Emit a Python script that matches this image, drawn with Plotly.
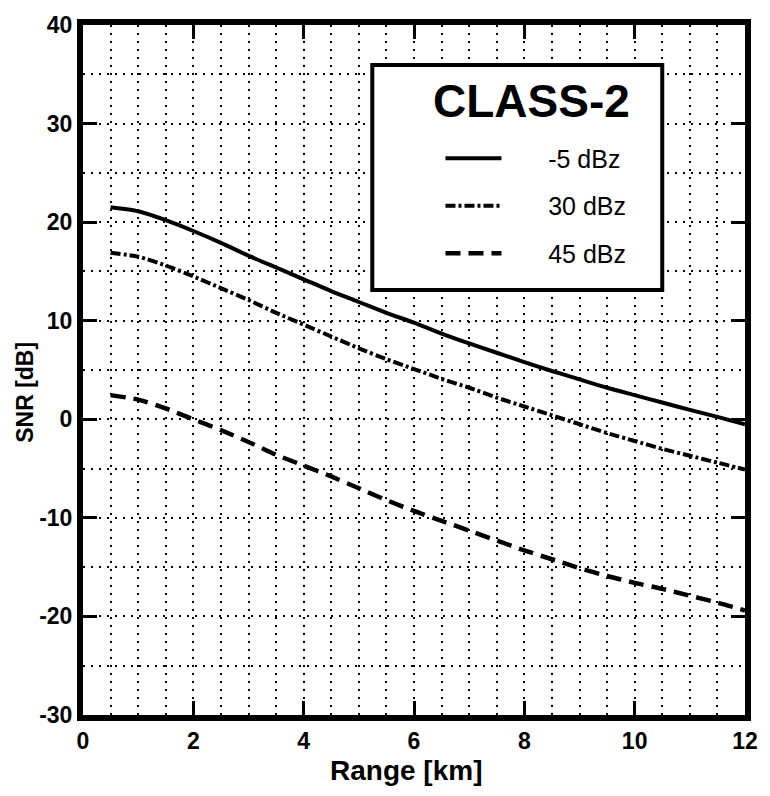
import plotly.graph_objects as go

# Range in km
range_km = [0.5, 1.0, 1.5, 2.0, 2.5, 3.0, 3.5, 4.0, 4.5, 5.0, 5.5, 6.0,
            6.5, 7.0, 7.5, 8.0, 8.5, 9.0, 9.5, 10.0, 10.5, 11.0, 11.5, 12.0]

# SNR [dB] for each reflectivity class
snr_m5 = [21.5, 21.1, 20.2, 19.1, 17.9, 16.6, 15.4, 14.2, 13.0, 11.9, 10.8, 9.8,
          8.7, 7.7, 6.75, 5.8, 4.9, 4.05, 3.2, 2.45, 1.7, 0.95, 0.25, -0.5]
snr_30 = [16.9, 16.5, 15.6, 14.5, 13.3, 12.1, 10.8, 9.6, 8.4, 7.2, 6.1, 5.1,
          4.1, 3.2, 2.2, 1.3, 0.4, -0.5, -1.4, -2.2, -3.0, -3.7, -4.4, -5.1]
snr_45 = [2.45, 2.0, 1.1, 0.0, -1.1, -2.3, -3.6, -4.7, -5.8, -7.0, -8.2, -9.3,
          -10.3, -11.3, -12.3, -13.3, -14.2, -15.1, -15.9, -16.6, -17.2, -17.9, -18.6, -19.4]

series_names = ["-5 dBz", "30 dBz", "45 dBz"]
series_values = [snr_m5, snr_30, snr_45]
series_dash = ["solid", "10px,3px,3px,3px", "15px,8px"]
series_width = [4, 4, 4.5]

x_ticks = [0, 2, 4, 6, 8, 10, 12]
y_ticks = [-30, -20, -10, 0, 10, 20, 30, 40]

FONT = "Liberation Sans, Arial, sans-serif"
PAD = "\u00a0" * 6  # gap between legend sample and its label

fig = go.Figure()
for name, vals, dash, w in zip(series_names, series_values, series_dash, series_width):
    fig.add_trace(go.Scatter(
        x=range_km, y=vals, name=PAD + name, mode="lines",
        line=dict(color="black", width=w, dash=dash, shape="spline", smoothing=0.6),
        legendgroup=name,
    ))

grid_style = dict(showgrid=True, gridcolor="black", gridwidth=2, griddash="2px,6px")

fig.update_xaxes(
    range=[0, 12], tickvals=x_ticks, ticktext=[str(v) for v in x_ticks],
    ticks="inside", ticklen=14, tickwidth=3, tickcolor="black",
    showline=True, linewidth=6, linecolor="black", mirror="ticks",
    zeroline=False,
    minor=dict(dtick=0.5, showgrid=True, gridcolor="black", gridwidth=2, griddash="2px,6px"),
    tickfont=dict(family=FONT, size=23, color="black", weight="bold"),
    **grid_style,
)
fig.update_yaxes(
    range=[-30, 40], tickvals=y_ticks, ticktext=[str(v) for v in y_ticks],
    ticks="inside", ticklen=14, tickwidth=3, tickcolor="black",
    showline=True, linewidth=6, linecolor="black", mirror="ticks",
    zeroline=False,
    minor=dict(dtick=5, showgrid=True, gridcolor="black", gridwidth=2, griddash="2px,6px"),
    tickfont=dict(family=FONT, size=23, color="black", weight="bold"),
    **grid_style,
)

# Legend frame
fig.add_shape(type="rect", xref="paper", yref="paper",
              x0=0.437, x1=0.875, y0=0.616, y1=0.942,
              line=dict(color="black", width=4), fillcolor="white", layer="above")

fig.add_annotation(text="<b>CLASS-2</b>", xref="paper", yref="paper",
                   x=0.677, y=0.89, xanchor="center", yanchor="middle", showarrow=False,
                   font=dict(family=FONT, size=46, color="black"))

fig.add_annotation(text="<b>Range [km]</b>", xref="paper", yref="paper",
                   x=0.488, y=-0.08, xanchor="center", yanchor="middle", showarrow=False,
                   font=dict(family=FONT, size=28, color="black"))
fig.add_annotation(text="<b>SNR [dB]</b>", xref="paper", yref="paper",
                   x=-0.088, y=0.468, xanchor="center", yanchor="middle", showarrow=False,
                   textangle=-90, font=dict(family=FONT, size=23, color="black"))

fig.update_layout(
    width=770, height=796,
    margin=dict(l=83, r=17, t=18, b=81),
    paper_bgcolor="white", plot_bgcolor="white",
    showlegend=True,
    legend=dict(x=0.54, y=0.84, xanchor="left", yanchor="top",
                bgcolor="rgba(0,0,0,0)", borderwidth=0,
                itemwidth=56, tracegroupgap=12,
                font=dict(family=FONT, size=25, color="black")),
)

fig.write_html("out.html")
